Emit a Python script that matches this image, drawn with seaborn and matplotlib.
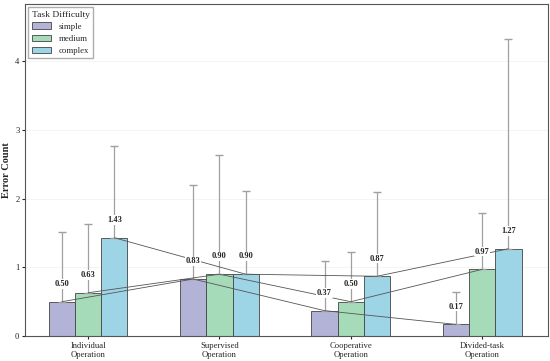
import numpy as np
import pandas as pd
import matplotlib
matplotlib.use('Agg')
import matplotlib.pyplot as plt
import seaborn as sns

conditions = ['Individual\nOperation', 'Supervised\nOperation', 'Cooperative\nOperation', 'Divided-task\nOperation']
difficulties = ['simple', 'medium', 'complex']
simple_mean = [0.50, 0.83, 0.37, 0.17]
medium_mean = [0.63, 0.90, 0.50, 0.97]
complex_mean = [1.43, 0.90, 0.87, 1.27]
simple_sd = [1.01, 1.37, 0.72, 0.47]
medium_sd = [1.00, 1.73, 0.73, 0.82]
complex_sd = [1.33, 1.21, 1.22, 3.05]

means = {'simple': simple_mean, 'medium': medium_mean, 'complex': complex_mean}
sds = {'simple': simple_sd, 'medium': medium_sd, 'complex': complex_sd}
colors = ['#b3b3d8', '#a6dbb9', '#9dd4e6']

rows = []
for d in difficulties:
    for c, m in zip(conditions, means[d]):
        rows.append({'condition': c, 'difficulty': d, 'errors': m})
df = pd.DataFrame(rows)

sns.set_style('white')
plt.rcParams['font.family'] = ['Liberation Serif', 'DejaVu Serif']

fig, ax = plt.subplots(figsize=(5.5, 3.61), dpi=100)
sns.barplot(data=df, x='condition', y='errors', hue='difficulty', hue_order=difficulties,
            palette=colors, width=0.6, edgecolor='#444444', linewidth=0.6,
            errorbar=None, ax=ax, saturation=1)

for i, d in enumerate(difficulties):
    cont = ax.containers[i]
    xs = [p.get_x() + p.get_width() / 2 for p in cont]
    ys = means[d]
    ax.plot(xs, ys, color='#555555', lw=0.6, zorder=4)
    eb = ax.errorbar(xs, ys, yerr=[np.zeros(len(ys)), sds[d]], fmt='none',
                     ecolor='#a0a0a0', elinewidth=0.9, capsize=3, capthick=1, zorder=3)
    for cap in eb[1]:
        cap.set_color('#444444')
    for x, y in zip(xs, ys):
        ax.text(x, y + 0.2, f'{y:.2f}', ha='center', va='bottom', fontsize=6,
                fontweight='bold', zorder=5,
                bbox=dict(facecolor='white', edgecolor='none', pad=0.5))

ax.set_xlim(-0.48, 3.5)
ax.set_ylim(0, 4.83)
ax.set_yticks([0, 1, 2, 3, 4])
ax.yaxis.grid(True, color='#f2f2f2', lw=0.6)
ax.set_axisbelow(True)
ax.set_xlabel('')
ax.set_ylabel('Error Count', fontsize=7.5, fontweight='bold', labelpad=3)
ax.tick_params(axis='both', labelsize=6.2, length=2.5, pad=1.5, left=True, bottom=True)
for s in ax.spines.values():
    s.set_color('#555555')
    s.set_linewidth(0.8)

ax.legend(title='Task Difficulty', loc='upper left', fontsize=6.3, title_fontsize=6.8,
          frameon=True, edgecolor='#999999', fancybox=False, borderpad=0.4,
          handlelength=2.2, borderaxespad=0.35, labelspacing=0.45)

plt.subplots_adjust(left=0.0455, right=0.996, top=0.989, bottom=0.069)
plt.savefig('out.png', dpi=100)
